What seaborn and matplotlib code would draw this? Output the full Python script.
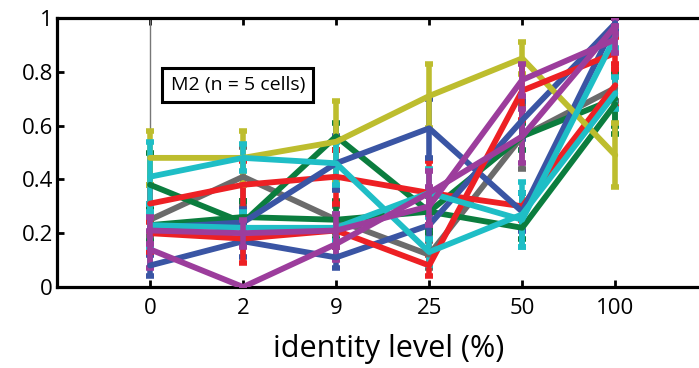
import matplotlib
matplotlib.use("Agg")
import matplotlib.pyplot as plt
import seaborn as sns
import pandas as pd

# ---- data ----
levels = ["0", "2", "9", "25", "50", "100"]

yellow   = [0.48, 0.48, 0.54, 0.71, 0.85, 0.49]
yellow_e = [0.10, 0.10, 0.15, 0.12, 0.06, 0.12]
gray     = [0.25, 0.41, 0.25, 0.12, 0.56, 0.74]
gray_e   = [0.06, 0.11, 0.05, 0.05, 0.12, 0.05]
green_a  = [0.38, 0.24, 0.56, 0.28, 0.22, 0.68]
green_a_e= [0.12, 0.08, 0.05, 0.06, 0.04, 0.11]
green_b  = [0.23, 0.26, 0.25, 0.28, 0.56, 0.70]
green_b_e= [0.06, 0.06, 0.07, 0.08, 0.05, 0.10]
cyan_a   = [0.41, 0.48, 0.46, 0.13, 0.27, 0.72]
cyan_a_e = [0.13, 0.05, 0.08, 0.05, 0.12, 0.06]
cyan_b   = [0.23, 0.22, 0.22, 0.35, 0.25, 0.93]
cyan_b_e = [0.08, 0.06, 0.05, 0.09, 0.10, 0.04]
red_a    = [0.31, 0.38, 0.41, 0.35, 0.30, 0.75]
red_a_e  = [0.07, 0.09, 0.10, 0.12, 0.05, 0.08]
red_b    = [0.20, 0.18, 0.21, 0.08, 0.73, 0.87]
red_b_e  = [0.07, 0.09, 0.06, 0.04, 0.11, 0.06]
blue_a   = [0.08, 0.17, 0.11, 0.23, 0.62, 0.98]
blue_a_e = [0.04, 0.06, 0.04, 0.05, 0.07, 0.02]
blue_b   = [0.22, 0.24, 0.46, 0.59, 0.28, 0.98]
blue_b_e = [0.06, 0.05, 0.10, 0.11, 0.07, 0.02]
mag_a    = [0.21, 0.20, 0.21, 0.30, 0.77, 0.92]
mag_a_e  = [0.05, 0.05, 0.06, 0.07, 0.06, 0.05]
mag_b    = [0.14, 0.00, 0.16, 0.35, 0.56, 0.97]
mag_b_e  = [0.07, 0.00, 0.06, 0.08, 0.10, 0.03]

series = [
    ("gray", gray, gray_e, "#6b6b6b"),
    ("green_b", green_b, green_b_e, "#0b7d3e"),
    ("green_a", green_a, green_a_e, "#0b7d3e"),
    ("red_a", red_a, red_a_e, "#ed2024"),
    ("blue_a", blue_a, blue_a_e, "#3a55a4"),
    ("blue_b", blue_b, blue_b_e, "#3a55a4"),
    ("yellow", yellow, yellow_e, "#bdbd2e"),
    ("red_b", red_b, red_b_e, "#ed2024"),
    ("cyan_a", cyan_a, cyan_a_e, "#1fbec6"),
    ("cyan_b", cyan_b, cyan_b_e, "#1fbec6"),
    ("mag_b", mag_b, mag_b_e, "#9c3d9c"),
    ("mag_a", mag_a, mag_a_e, "#9c3d9c"),
]

rows = []
for name, vals, errs, col in series:
    for i, v in enumerate(vals):
        rows.append({"series": name, "pos": i, "value": v})
df = pd.DataFrame(rows)
palette = {name: col for name, vals, errs, col in series}

sns.set_theme(style="white")
plt.rcParams["font.family"] = ["Open Sans", "DejaVu Sans"]

fig = plt.figure(figsize=(6.99, 3.68), dpi=100)
ax = fig.add_axes([57 / 699, (368 - 287) / 368, (699 - 57) / 699, (287 - 18) / 368])

# thin pointer line
ax.plot([0, 0], [0.585, 1.0], color="#777777", lw=1.0, zorder=1)

for k, (name, vals, errs, col) in enumerate(series):
    ax.errorbar(range(len(vals)), vals, yerr=errs, fmt="none", ecolor=col,
                elinewidth=4.0, capsize=3.2, capthick=4.0, zorder=2 + k * 0.1)

sns.lineplot(data=df, x="pos", y="value", hue="series", palette=palette,
             hue_order=[s[0] for s in series], estimator=None, sort=False,
             linewidth=4.2, legend=False, ax=ax, zorder=3)

ax.set_xlim(-1.0, 5.9)
ax.set_ylim(0, 1)
ax.set_xticks(range(len(levels)))
ax.set_xticklabels(levels)
ax.set_yticks([0, 0.2, 0.4, 0.6, 0.8, 1.0])
ax.set_yticklabels(["0", "0.2", "0.4", "0.6", "0.8", "1"])
ax.tick_params(axis="both", direction="in", length=5, width=2, labelsize=16,
               color="black", labelcolor="black")
ax.tick_params(axis="x", top=True, bottom=True, pad=8)
ax.tick_params(axis="y", left=True, right=False, pad=3)
ax.set_xlabel("identity level (%)", fontsize=22, color="black")
ax.xaxis.set_label_coords(0.516, -0.175)
ax.set_ylabel("")
for side in ["left", "bottom", "top"]:
    ax.spines[side].set_linewidth(2.3)
    ax.spines[side].set_color("black")
ax.spines["right"].set_visible(False)

ax.text(0.22, 0.75, "M2 (n = 5 cells)", fontsize=14, color="black",
        transform=ax.transData, va="center", ha="left",
        bbox=dict(boxstyle="square,pad=0.42", fc="white", ec="black", lw=2.2), zorder=10)

fig.savefig("out.png", dpi=100)
